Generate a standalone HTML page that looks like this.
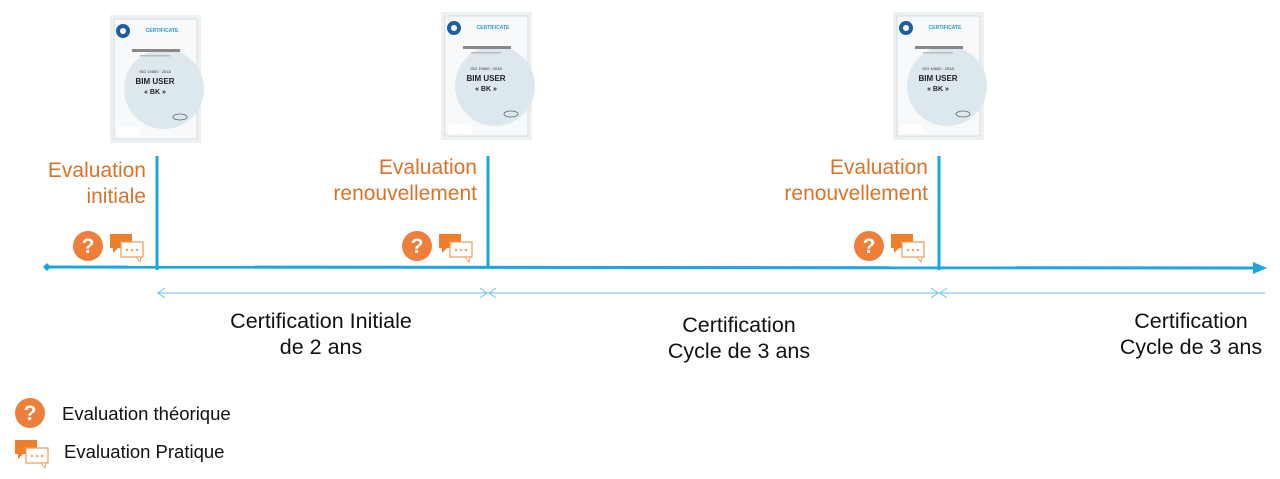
<!DOCTYPE html>
<html><head><meta charset="utf-8"><style>
html,body{margin:0;padding:0;background:#fff;}
svg{display:block;font-family:"Liberation Sans",Arial,sans-serif;}
</style></head><body>
<svg width="1280" height="479" viewBox="0 0 1280 479" xmlns="http://www.w3.org/2000/svg">
<defs>
<g id="cert">
  <rect x="0" y="0" width="91" height="128" fill="#eef1f3"/>
  <rect x="4" y="4" width="83" height="120" fill="#f7f9fa" stroke="#d5dde2" stroke-width="1"/>
  <circle cx="54" cy="74" r="40" fill="#dde8ee"/>
  <circle cx="13" cy="16" r="7" fill="#1c5f9e"/>
  <circle cx="13" cy="16" r="3" fill="#fff"/>
  <text x="52" y="17" font-size="5" fill="#2c9ad6" font-weight="bold" text-anchor="middle">CERTIFICATE</text>
  <rect x="22" y="34" width="48" height="3" fill="#888"/>
  <rect x="30" y="40" width="30" height="1.5" fill="#bbb"/>
  <text x="45" y="58" font-size="4" fill="#333" text-anchor="middle">ISO 19650 : 2018</text>
  <text x="45" y="69" font-size="8" fill="#222" font-weight="bold" text-anchor="middle">BIM USER</text>
  <text x="45" y="79" font-size="7" fill="#222" font-weight="bold" text-anchor="middle">« BK »</text>
  <rect x="8" y="112" width="22" height="9" fill="#fff"/>
  <ellipse cx="70" cy="102" rx="7" ry="3" fill="none" stroke="#666" stroke-width="0.8"/>
</g>
<g id="q">
  <circle cx="0" cy="0" r="15" fill="#ee7f3a"/>
  <text x="0" y="7" font-size="21" font-weight="bold" fill="#fff" text-anchor="middle">?</text>
</g>
<g id="chat">
  <rect x="0" y="0" width="22" height="14" fill="#ee7f2a"/>
  <polygon points="3,14 8,14 3,19" fill="#ee7f2a"/>
  <rect x="11" y="8" width="22" height="15" fill="#fff" stroke="#f0a060" stroke-width="1.3"/>
  <polygon points="26,23 31,23 30,28" fill="#fff" stroke="#f0a060" stroke-width="1"/>
  <circle cx="17" cy="16" r="1.2" fill="#f0a060"/><circle cx="22" cy="16" r="1.2" fill="#f0a060"/><circle cx="27" cy="16" r="1.2" fill="#f0a060"/>
</g>
</defs>

<use href="#cert" x="110" y="15"/>
<use href="#cert" x="441" y="12"/>
<use href="#cert" x="893" y="12"/>

<line x1="47" y1="267" x2="1256" y2="268" stroke="#1ba6df" stroke-width="3"/>
<polygon points="1267,268 1253,262 1253,274" fill="#1ba6df"/>
<polygon points="47,263 51,267 47,271 43,267" fill="#1ba6df"/>
<line x1="157" y1="156" x2="157" y2="270" stroke="#1ba6df" stroke-width="3"/>
<line x1="488" y1="156" x2="488" y2="268" stroke="#1ba6df" stroke-width="3"/>
<line x1="939" y1="156" x2="939" y2="270" stroke="#1ba6df" stroke-width="3"/>

<g stroke="#6cc3e8" stroke-width="1" fill="none">
  <line x1="157" y1="293" x2="1265" y2="293"/>
  <polyline points="165,288 158,293 165,298"/>
  <polyline points="480,288 487,293 480,298"/>
  <polyline points="496,288 489,293 496,298"/>
  <polyline points="931,288 938,293 931,298"/>
  <polyline points="947,288 940,293 947,298"/>
</g>

<use href="#q" x="88" y="246"/>
<use href="#chat" x="110" y="234"/>
<use href="#q" x="417" y="246"/>
<use href="#chat" x="439" y="234"/>
<use href="#q" x="869" y="246"/>
<use href="#chat" x="891" y="234"/>

<g font-size="21" fill="#d9732a" text-anchor="end">
  <text x="146" y="177">Evaluation</text>
  <text x="146" y="203">initiale</text>
  <text x="477" y="174">Evaluation</text>
  <text x="477" y="200">renouvellement</text>
  <text x="928" y="174">Evaluation</text>
  <text x="928" y="200">renouvellement</text>
</g>

<g font-size="21.5" fill="#111" text-anchor="middle">
  <text x="321" y="328">Certification Initiale</text>
  <text x="321" y="354">de 2 ans</text>
  <text x="739" y="332">Certification</text>
  <text x="739" y="358">Cycle de 3 ans</text>
  <text x="1191" y="328">Certification</text>
  <text x="1191" y="354">Cycle de 3 ans</text>
</g>

<use href="#q" x="30" y="413"/>
<text x="62" y="420" font-size="18.5" fill="#111">Evaluation théorique</text>
<use href="#chat" x="15" y="440"/>
<text x="64" y="458" font-size="18.5" fill="#111">Evaluation Pratique</text>
</svg>
</body></html>
